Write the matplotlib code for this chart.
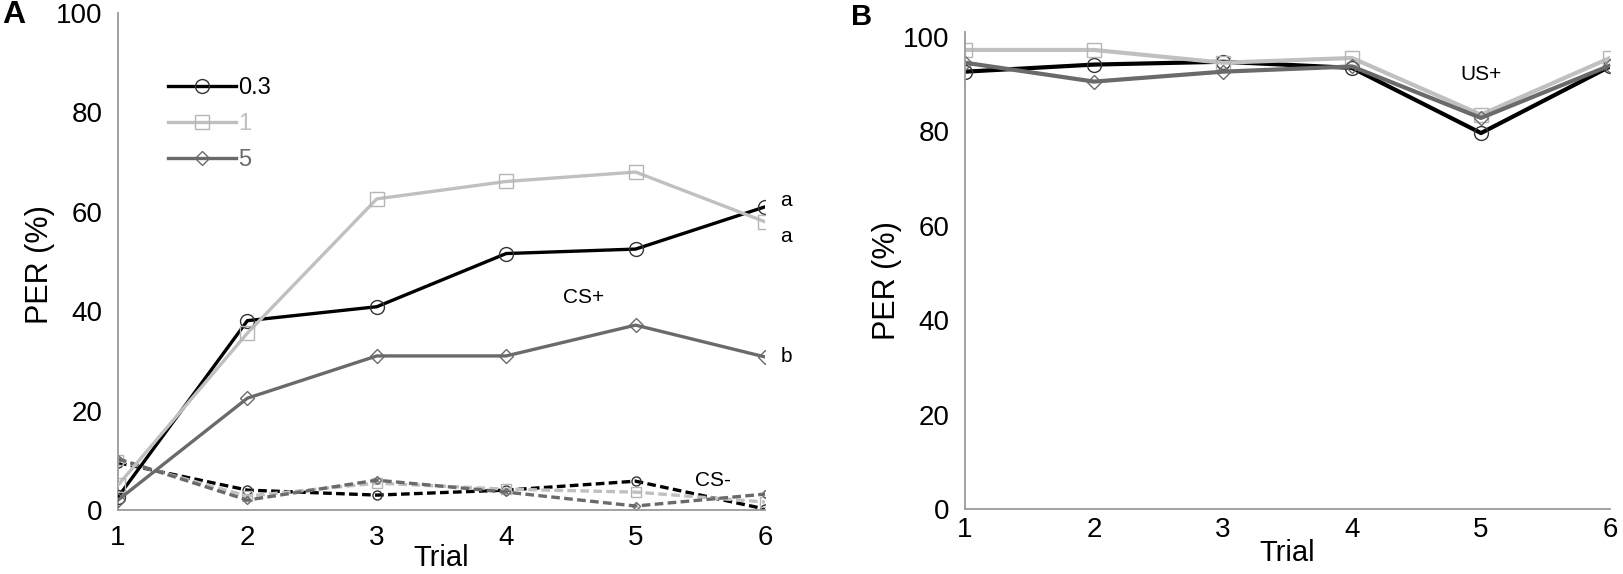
import numpy as np
import matplotlib.pyplot as plt

plt.rcParams['font.family'] = ['Liberation Sans', 'DejaVu Sans']

# === Data ===
trials = [1, 2, 3, 4, 5, 6]
groups = ["0.3", "1", "5"]

# Panel A, CS+ (solid)
cs_plus_03 = [2.6, 38.1, 40.9, 51.6, 52.5, 61.0]
cs_plus_1 = [5.0, 35.6, 62.6, 66.1, 68.0, 58.0]
cs_plus_5 = [2.0, 22.5, 31.0, 31.0, 37.2, 30.8]

# Panel A, CS- (dashed)
cs_minus_03 = [9.5, 4.0, 3.0, 4.0, 5.8, 0.2]
cs_minus_1 = [10.0, 2.8, 5.4, 4.2, 3.6, 1.6]
cs_minus_5 = [10.3, 2.0, 6.0, 3.6, 0.8, 3.2]

# Panel B, US+
us_plus_03 = [92.6, 94.1, 94.7, 93.4, 79.6, 93.7]
us_plus_1 = [97.2, 97.2, 94.5, 95.5, 83.5, 95.5]
us_plus_5 = [94.5, 90.5, 92.6, 93.7, 82.8, 93.9]

sig_letters = ["a", "a", "b"]

colors = ["#000000", "#c0c0c0", "#6a6a6a"]
edge_colors = ["#333333", "#b5b5b5", "#6a6a6a"]
markers = ["o", "s", "D"]
msizes = [10, 10, 7]

fig = plt.figure(figsize=(16.23, 5.74), dpi=100)
axA = fig.add_axes([118 / 1623, 1 - 510 / 574, (765 - 118) / 1623, (510 - 13) / 574])
axB = fig.add_axes([965 / 1623, 1 - 509 / 574, (1610 - 965) / 1623, (509 - 32) / 574])

# --- Panel A ---
dashed = (0, (2.6, 1.3))
for vals, c, ec, m, ms in zip([cs_minus_03, cs_minus_1, cs_minus_5], colors, edge_colors, markers, msizes):
    axA.plot(trials, vals, color=c, lw=2.4, linestyle=dashed, marker=m, ms=ms * 0.65,
             mfc="none", mec=ec, mew=1.0, zorder=2)

for vals, c, ec, m, ms, g in zip([cs_plus_03, cs_plus_1, cs_plus_5], colors, edge_colors, markers, msizes, groups):
    axA.plot(trials, vals, color=c, lw=2.4, marker=m, ms=ms, mfc="none",
             mec=ec, mew=1.0, label=g, zorder=3)

axA.set_xlim(1, 6)
axA.set_ylim(0, 100)
axA.set_yticks([0, 20, 40, 60, 80, 100])
axA.set_xticks(trials)

leg = axA.legend(loc="upper left", bbox_to_anchor=(0.062, 0.89), frameon=False,
                 fontsize=17, handlelength=2.9, handletextpad=0.1, labelspacing=0.6,
                 borderaxespad=0)
for txt, c in zip(leg.get_texts(), colors):
    txt.set_color(c)

axA.text(6.12, cs_plus_03[-1] + 1.2, sig_letters[0], fontsize=15, va="center")
axA.text(6.12, cs_plus_1[-1] - 3.0, sig_letters[1], fontsize=15, va="center")
axA.text(6.12, cs_plus_5[-1], sig_letters[2], fontsize=15, va="center")
axA.text(4.6, 42.8, "CS+", fontsize=15, ha="center", va="center")
axA.text(5.6, 6.0, "CS-", fontsize=15, ha="center", va="center")

# --- Panel B ---
for vals, c, ec, m, ms in zip([us_plus_03, us_plus_1, us_plus_5], colors, edge_colors, markers, msizes):
    axB.plot(trials, vals, color=c, lw=3.0, marker=m, ms=ms, mfc="none",
             mec=ec, mew=1.0)
axB.set_xlim(1, 6)
axB.set_ylim(0, 101)
axB.set_yticks([0, 20, 40, 60, 80, 100])
axB.set_xticks(trials)
axB.text(5.0, 92.0, "US+", fontsize=15, ha="center", va="center")

# --- shared styling ---
for ax, xpad in [(axA, 11), (axB, 6)]:
    for side in ["top", "right"]:
        ax.spines[side].set_visible(False)
    for side in ["left", "bottom"]:
        ax.spines[side].set_color("#9a9a9a")
        ax.spines[side].set_linewidth(1.3)
    ax.tick_params(axis="both", length=0, labelsize=20)
    ax.tick_params(axis="y", pad=11)
    ax.tick_params(axis="x", pad=xpad)
    ax.set_xlabel("Trial", fontsize=21)
    ax.set_ylabel("PER (%)", fontsize=22)

axA.xaxis.set_label_coords(0.5, -0.068)
axB.xaxis.set_label_coords(0.5, -0.063)
axA.yaxis.set_label_coords(-0.097, 0.493)
axB.yaxis.set_label_coords(-0.098, 0.479)

fig.text(2 / 1623, 1 - 15 / 574, "A", fontsize=23, fontweight="bold", va="center", ha="left")
fig.text(851 / 1623, 1 - 17 / 574, "B", fontsize=21, fontweight="bold", va="center", ha="left")

fig.savefig("out.png", dpi=100)
